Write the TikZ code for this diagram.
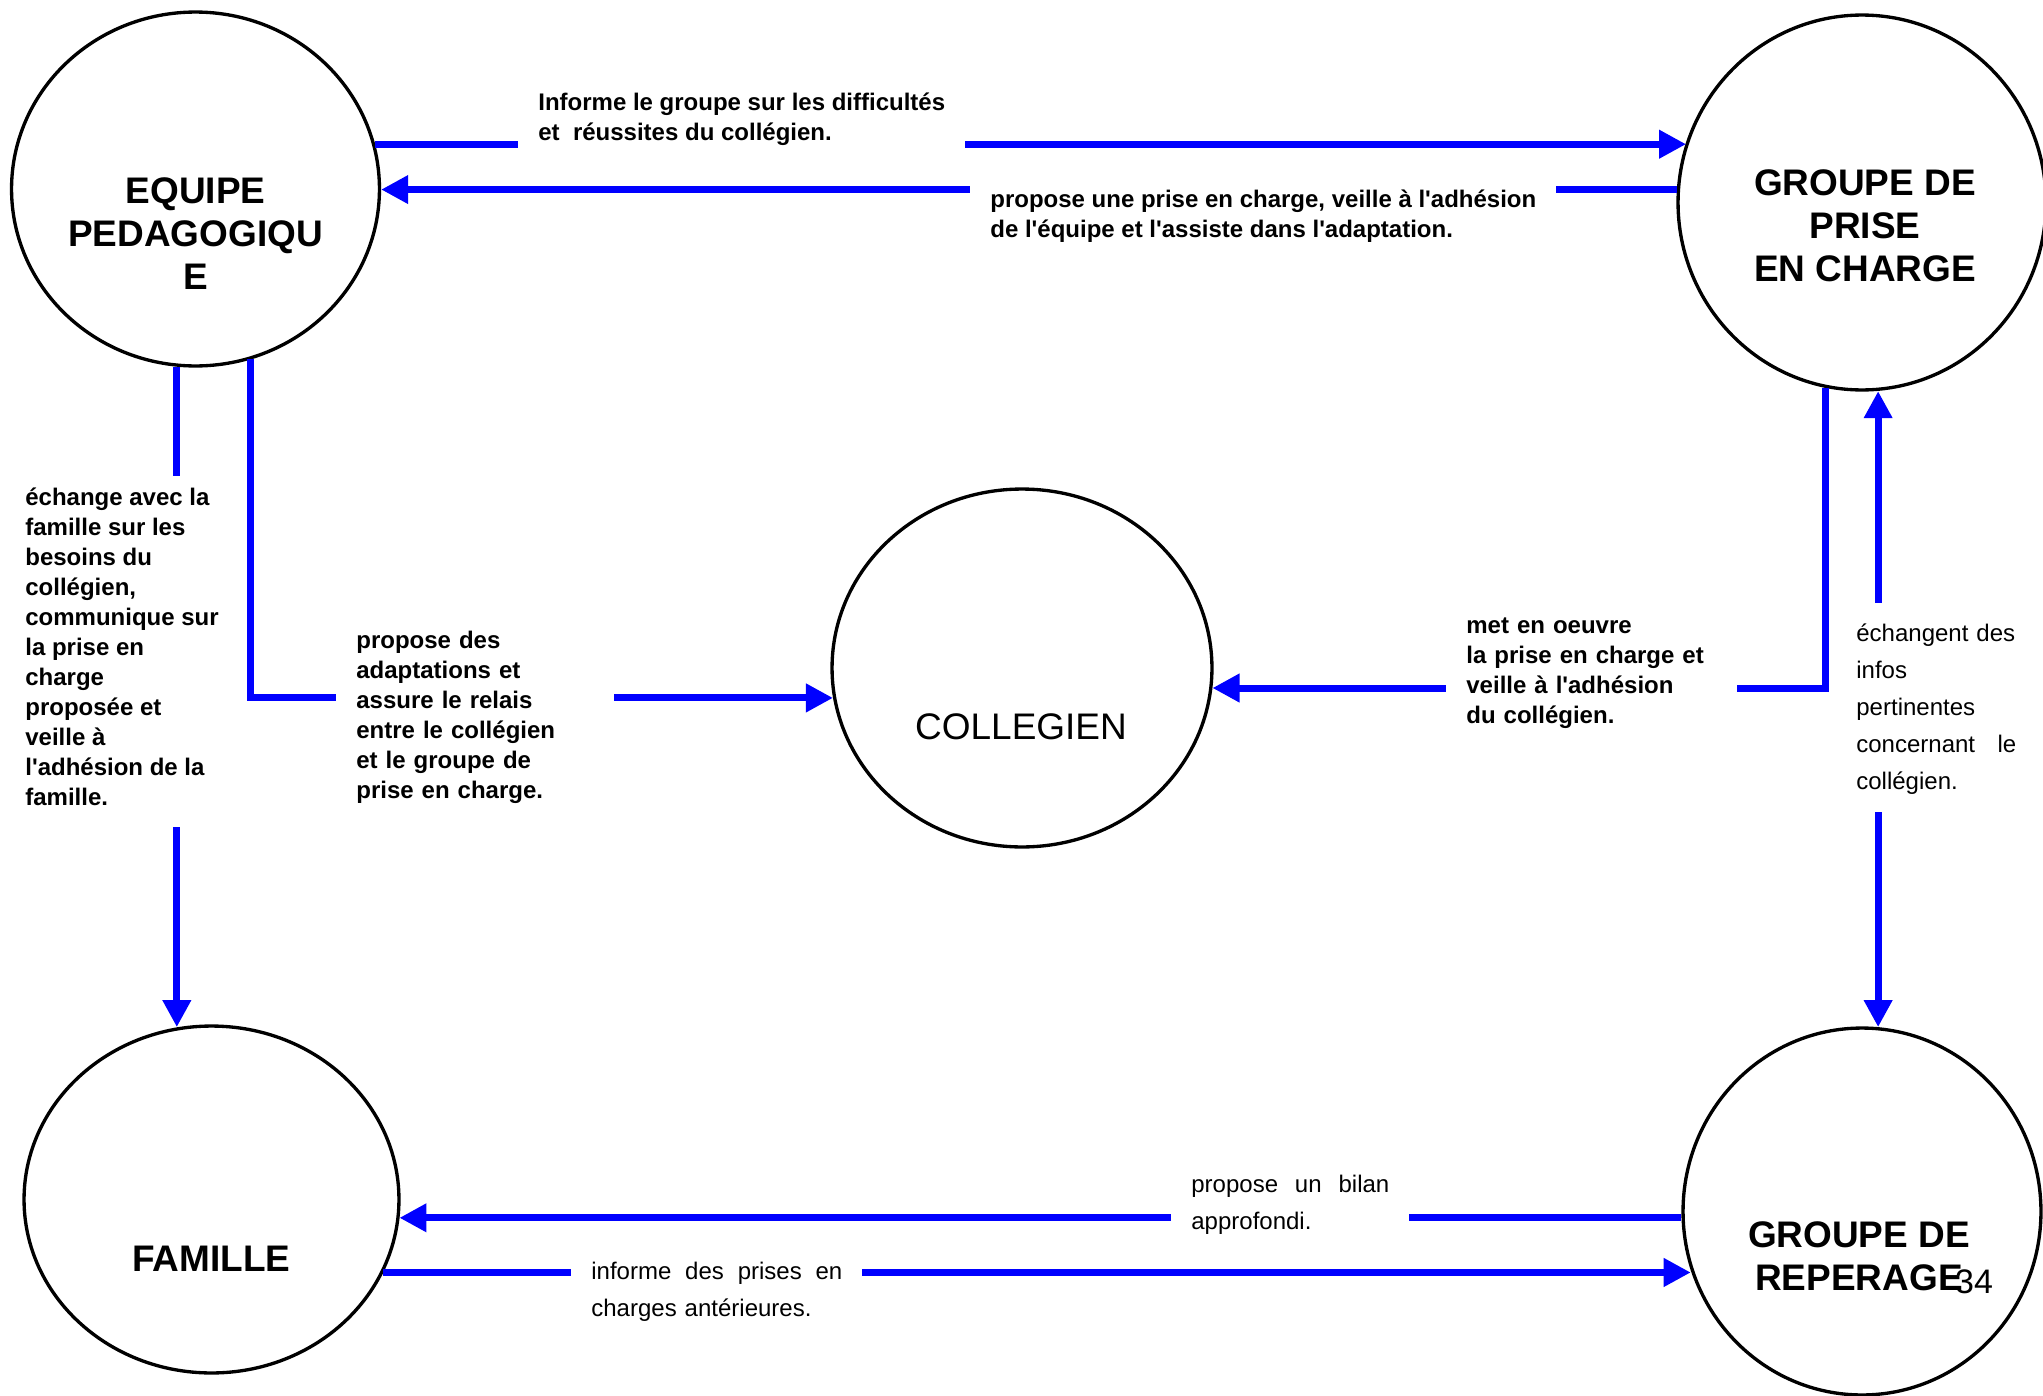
\documentclass[tikz,border=0pt]{standalone}
\usepackage{fontspec}
\setmainfont{Liberation Sans}[Ligatures=TeXOff]
\usetikzlibrary{shapes.geometric,arrows.meta}
\begin{document}
\begin{tikzpicture}[x=0.02cm,y=-0.02cm,
    >={Triangle[length=15.4pt,width=15.4pt]},
    circ/.style={draw,ellipse,line width=1.9pt,inner sep=0pt},
    conn/.style={draw=blue,line width=4pt},
    title/.style={font=\fontsize{21.05pt}{24.47pt}\selectfont\bfseries,align=center,inner sep=0pt,execute at begin node=\strut},
    lbl/.style={anchor=north west,fill=white,inner xsep=11.4pt,inner ysep=6.8pt,align=left,
        font=\fontsize{13.66pt}{17.07pt}\selectfont\bfseries,execute at begin node=\strut,execute at end node=\strut},
    lblr/.style={lbl,font=\fontsize{13.66pt}{21.05pt}\selectfont}]
    \path[fill=white,use as bounding box] (0,0) rectangle (2043,1396);
    % the five partners
    \node[circ,minimum width=7.36cm,minimum height=7.08cm] (equipe) at (195.5,189) {};
    \node[circ,minimum width=7.36cm,minimum height=7.5cm] (prise) at (1862,202.5) {};
    \node[circ,minimum width=7.6cm,minimum height=7.16cm] (coll) at (1022,668) {};
    \node[circ,minimum width=7.5cm,minimum height=6.94cm] (famille) at (211.5,1199.5) {};
    \node[circ,minimum width=7.16cm,minimum height=7.34cm] (reperage) at (1862,1211.5) {};
    \node[title,anchor=north] (equipe-t) at (195.5,177) {EQUIPE\\PEDAGOGIQU\\E};
    \node[title,anchor=north] (prise-t) at (1865,169) {GROUPE DE\\PRISE\\EN CHARGE};
    \node[title,anchor=north] (reperage-t) at (1859,1221) {GROUPE DE\\REPERAGE};
    \node[title,anchor=base] (famille-t) at (211.5,1271) {FAMILLE};
    \node[title,anchor=base,font=\fontsize{21.05pt}{24.47pt}\selectfont] (coll-t) at (1021,739) {COLLEGIEN};
    \node[anchor=base,inner sep=0pt,font=\fontsize{19.35pt}{23pt}\selectfont] (pagenum) at (1974,1293) {34};
    % links
    \draw[conn,->] (equipe.14.6) -- (equipe.14.6 -| prise.161.2);
    \draw[conn,->] (prise.176.1) -- (prise.176.1 -| equipe.east);
    \draw[conn,->] (equipe.264.3) -- (equipe.264.3 |- famille.101.1);
    \draw[conn,->] (equipe.288.5) |- (coll.189.7);
    \draw[conn,->] (prise.259.9) |- (coll.354);
    \draw[conn,<->] (reperage.85) -- (reperage.85 |- prise.274.9);
    \draw[conn,->] (reperage.182.4) -- (reperage.182.4 -| famille.354);
    \draw[conn,->] (famille.337.2) -- (famille.337.2 -| reperage.199.4);
    % texts on the links
    \node[lbl] (l-inf) at (518,81) {Informe le groupe sur les difficultés\\et\ \ réussites du collégien.};
    \node[lbl] (l-prop) at (970,178) {propose une prise en charge, veille à l'adhésion\\de l'équipe et l'assiste dans l'adaptation.};
    \node[lbl] (l-ech) at (5,476) {échange avec la\\famille sur les\\besoins du\\collégien,\\communique sur\\la prise en\\charge\\proposée et\\veille à\\l'adhésion de la\\famille.};
    \node[lbl,text width=4.76cm] (l-adapt) at (336,615) {propose des\\adaptations et\\assure le relais\\entre le collégien\\et le groupe de\\prise en charge.};
    \node[lbl,text width=5.02cm] (l-oeuvre) at (1446,600) {met en oeuvre\\la prise en charge et\\veille à l'adhésion\\du collégien.};
    \node[lblr,text width=3.2cm] (l-infos) at (1836,603) {échangent des\\infos\\pertinentes\\concernant\hfill le\\collégien.};
    \node[lblr,text width=3.96cm] (l-bilan) at (1171,1154) {propose\hfill un\hfill bilan\\approfondi.};
    \node[lblr,text width=5.02cm] (l-ant) at (571,1241) {informe\hfill des\hfill prises\hfill en\\charges antérieures.};
\end{tikzpicture}
\end{document}
